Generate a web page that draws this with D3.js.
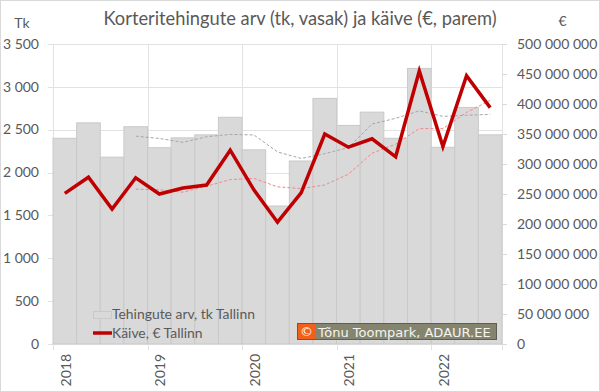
<!DOCTYPE html>
<html><head><meta charset="utf-8">
<script src="https://cdn.jsdelivr.net/npm/d3@7/dist/d3.min.js"></script>
<style>
body{margin:0;background:#fff}
svg{display:block}
</style>
</head><body>
<svg id="chart" width="600" height="392"></svg>
<script>
// ---- data ----
const quarters = ["2018 Q1","2018 Q2","2018 Q3","2018 Q4","2019 Q1","2019 Q2","2019 Q3","2019 Q4",
  "2020 Q1","2020 Q2","2020 Q3","2020 Q4","2021 Q1","2021 Q2","2021 Q3","2021 Q4","2022 Q1","2022 Q2","2022 Q3"];
const yearLabels = ["2018","2019","2020","2021","2022"];
const yearStartQuarter = ["2018 Q1","2019 Q1","2020 Q1","2021 Q1","2022 Q1"];
const deals = [2400,2580,2180,2535,2290,2405,2440,2645,2265,1610,2135,2865,2550,2705,2400,3215,2295,2760,2440];
const revenue = [251e6,278e6,225e6,277e6,250e6,260e6,265e6,323e6,257e6,203e6,252e6,350e6,328e6,342e6,312e6,455e6,329e6,447e6,394e6];
// 4-quarter moving averages as drawn in the reference (dashed trend lines)
const dealsMA = [null,null,null,2425,2398,2353,2418,2445,2439,2241,2165,2220,2291,2566,2633,2720,2656,2669,2679];
const revenueMA = [null,null,null,258e6,257e6,253e6,263e6,274e6,276e6,262e6,259e6,265e6,283e6,318e6,333e6,359e6,359e6,386e6,406e6];
const leftTicks = [0,500,1000,1500,2000,2500,3000,3500];
const rightTicks = [0,50e6,100e6,150e6,200e6,250e6,300e6,350e6,400e6,450e6,500e6];
const titleText = "Korteritehingute arv (tk, vasak) ja käive (€, parem)";
const legendLabels = ["Tehingute arv, tk Tallinn","Käive, € Tallinn"];
const copyrightText = "Tõnu Toompark, ADAUR.EE";

// ---- layout ----
const L = 53, R = 502, T = 44, B = 344;
const FONT = "Lato, 'Open Sans', sans-serif";
const svg = d3.select("#chart");
const loc = d3.formatLocale({decimal:",", thousands:"\u00a0", grouping:[3], currency:["","€"]});
const fmt = loc.format(",d");

const x = d3.scaleBand().domain(quarters).range([L,R]).padding(0);
const yL = d3.scaleLinear().domain([0,3500]).range([B,T]);
const yR = d3.scaleLinear().domain([0,500e6]).range([B,T]);

svg.append("rect").attr("x",0.5).attr("y",0.5).attr("width",599).attr("height",391)
  .attr("fill","#fff").attr("stroke","#d9d9d9");

const gridCol = "#e2e2e2";
// horizontal gridlines (left axis) with outward ticks
svg.append("g").selectAll("line").data(leftTicks).join("line")
  .attr("x1",L-5).attr("x2",R).attr("y1",d=>Math.round(yL(d))+0.5).attr("y2",d=>Math.round(yL(d))+0.5)
  .attr("stroke",gridCol);
// vertical year gridlines
const yearBounds = yearStartQuarter.map(q=>x(q)).concat([R]);
svg.append("g").selectAll("line").data(yearBounds).join("line")
  .attr("x1",d=>Math.round(d)+0.5).attr("x2",d=>Math.round(d)+0.5).attr("y1",T).attr("y2",B+6)
  .attr("stroke",gridCol);

// bars
svg.append("g").selectAll("rect").data(deals).join("rect")
  .attr("x",(d,i)=>x(quarters[i])).attr("width",x.bandwidth())
  .attr("y",d=>yL(d)).attr("height",d=>B-yL(d))
  .attr("fill","#d9d9d9").attr("stroke","#c9c9c9").attr("stroke-width",1);

// right axis ticks
svg.append("g").selectAll("line").data(rightTicks).join("line")
  .attr("x1",R).attr("x2",R+5).attr("y1",d=>Math.round(yR(d))+0.5).attr("y2",d=>Math.round(yR(d))+0.5)
  .attr("stroke","#d9d9d9");
// bottom axis line
svg.append("line").attr("x1",L).attr("x2",R+5).attr("y1",B+0.5).attr("y2",B+0.5).attr("stroke","#d9d9d9");

const cx = (i)=>x(quarters[i])+x.bandwidth()/2;
// moving average dashed lines
const maLineL = d3.line().defined(d=>d!=null).x((d,i)=>cx(i)).y(d=>yL(d));
const maLineR = d3.line().defined(d=>d!=null).x((d,i)=>cx(i)).y(d=>yR(d));
svg.append("path").attr("d",maLineL(dealsMA)).attr("fill","none")
  .attr("stroke","#a6a6a6").attr("stroke-width",1).attr("stroke-dasharray","3,2");
svg.append("path").attr("d",maLineR(revenueMA)).attr("fill","none")
  .attr("stroke","#f4868a").attr("stroke-width",1).attr("stroke-dasharray","3,2");

// revenue line
const revLine = d3.line().x((d,i)=>cx(i)).y(d=>yR(d));
svg.append("path").attr("d",revLine(revenue)).attr("fill","none")
  .attr("stroke","#c00000").attr("stroke-width",3.5).attr("stroke-linejoin","miter");

const txtCol = "#595959";
// left tick labels
svg.append("g").selectAll("text").data(leftTicks).join("text")
  .attr("x",39).attr("y",d=>yL(d)).attr("dy","0.34em").attr("text-anchor","end")
  .style("font-family",FONT).style("font-size","14px").attr("fill",txtCol).text(d=>fmt(d));
// right tick labels
svg.append("g").selectAll("text").data(rightTicks).join("text")
  .attr("x",517).attr("y",d=>yR(d)).attr("dy","0.34em").attr("text-anchor","start")
  .style("font-family",FONT).style("font-size","14px").attr("fill",txtCol).text(d=>fmt(d));
// year labels
svg.append("g").selectAll("text").data(yearLabels).join("text")
  .attr("transform",(d,i)=>`translate(${cx(quarters.indexOf(yearStartQuarter[i]))+1},354) rotate(-90)`)
  .attr("dy","0.35em").attr("text-anchor","end")
  .style("font-family",FONT).style("font-size","14px").attr("fill",txtCol).text(d=>d);

// title and axis units
svg.append("text").attr("x",300).attr("y",24.5).attr("text-anchor","middle")
  .style("font-family",FONT).style("font-size","18.3px").attr("fill",txtCol).text(titleText);
svg.append("text").attr("x",22).attr("y",28).attr("text-anchor","middle")
  .style("font-family",FONT).style("font-size","14px").attr("fill",txtCol).text("Tk");
svg.append("text").attr("x",562.5).attr("y",25.5).attr("text-anchor","middle")
  .style("font-family",FONT).style("font-size","14px").attr("fill",txtCol).text("€");

// legend
const lg = svg.append("g");
lg.append("rect").attr("x",93.5).attr("y",311.5).attr("width",18).attr("height",7)
  .attr("fill","#d9d9d9").attr("stroke","#c9c9c9");
lg.append("text").attr("x",112).attr("y",319)
  .style("font-family",FONT).style("font-size","13.9px").attr("fill",txtCol).text(legendLabels[0]);
lg.append("line").attr("x1",93).attr("x2",112).attr("y1",333).attr("y2",333)
  .attr("stroke","#c00000").attr("stroke-width",3.5);
lg.append("text").attr("x",112).attr("y",338)
  .style("font-family",FONT).style("font-size","13.9px").attr("fill",txtCol).text(legendLabels[1]);

// copyright badge
const cp = svg.append("g");
cp.append("rect").attr("x",297.5).attr("y",323.5).attr("width",199).attr("height",16)
  .attr("fill","#85856f").attr("stroke","#5e5e52");
cp.append("rect").attr("x",298).attr("y",324).attr("width",17).attr("height",15).attr("fill","#f0601a");
cp.append("text").attr("x",306.5).attr("y",336).attr("text-anchor","middle")
  .style("font-family","'DejaVu Sans'").style("font-size","13px").attr("fill","#fff").text("©");
cp.append("text").attr("x",318).attr("y",336.5)
  .style("font-family","'DejaVu Sans'").style("font-size","13px").attr("fill","#f4f4f0").text(copyrightText);
</script>
</body></html>
